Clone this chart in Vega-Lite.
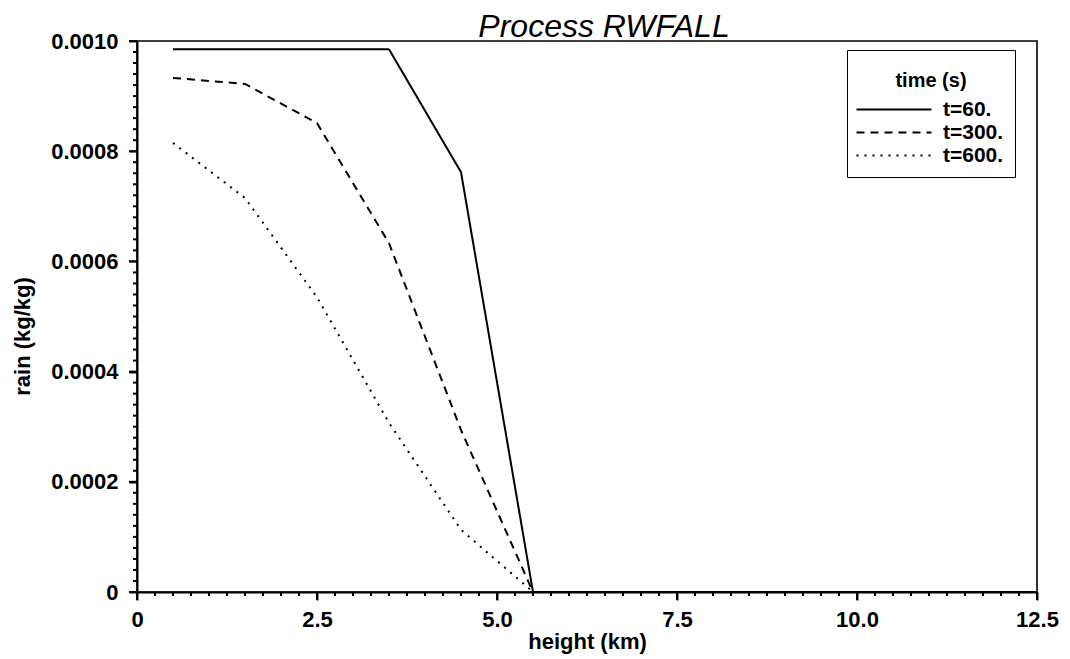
{
  "$schema": "https://vega.github.io/schema/vega-lite/v6.json",
  "autosize": {"type": "none"},
  "width": 900,
  "height": 551,
  "padding": {"left": 137, "top": 41, "right": 33, "bottom": 67},
  "background": "white",
  "title": {
    "text": "Process RWFALL",
    "font": "Liberation Sans",
    "fontSize": 32,
    "fontStyle": "italic",
    "fontWeight": "normal",
    "color": "black",
    "anchor": "middle",
    "frame": "group",
    "baseline": "alphabetic",
    "offset": 0,
    "dy": 39,
    "dx": 17
  },
  "config": {
    "view": {"stroke": "black", "strokeWidth": 1.6},
    "font": "Liberation Sans",
    "axis": {
      "domainColor": "black",
      "domainWidth": 2,
      "tickColor": "black",
      "tickWidth": 2,
      "grid": false,
      "labelFont": "Liberation Sans",
      "labelFontWeight": "bold",
      "labelFontSize": 22,
      "labelColor": "black",
      "labelOverlap": false,
      "labelFlush": false,
      "titleFont": "Liberation Sans",
      "titleFontWeight": "bold",
      "titleFontSize": 22,
      "titleColor": "black"
    }
  },
  "datasets": {
    "profiles": [
      {"height": 0.5, "rain": 0.000985, "time": "t=60."},
      {"height": 1.5, "rain": 0.000985, "time": "t=60."},
      {"height": 2.5, "rain": 0.000985, "time": "t=60."},
      {"height": 3.5, "rain": 0.000985, "time": "t=60."},
      {"height": 4.5, "rain": 0.000762, "time": "t=60."},
      {"height": 5.5, "rain": 0, "time": "t=60."},
      {"height": 6.5, "rain": 0, "time": "t=60."},
      {"height": 7.5, "rain": 0, "time": "t=60."},
      {"height": 8.5, "rain": 0, "time": "t=60."},
      {"height": 9.5, "rain": 0, "time": "t=60."},
      {"height": 10.5, "rain": 0, "time": "t=60."},
      {"height": 11.5, "rain": 0, "time": "t=60."},
      {"height": 12.5, "rain": 0, "time": "t=60."},
      {"height": 0.5, "rain": 0.000933, "time": "t=300."},
      {"height": 1.5, "rain": 0.000922, "time": "t=300."},
      {"height": 2.5, "rain": 0.000851, "time": "t=300."},
      {"height": 3.5, "rain": 0.000633, "time": "t=300."},
      {"height": 4.5, "rain": 0.000294, "time": "t=300."},
      {"height": 5.5, "rain": 0, "time": "t=300."},
      {"height": 6.5, "rain": 0, "time": "t=300."},
      {"height": 7.5, "rain": 0, "time": "t=300."},
      {"height": 8.5, "rain": 0, "time": "t=300."},
      {"height": 9.5, "rain": 0, "time": "t=300."},
      {"height": 10.5, "rain": 0, "time": "t=300."},
      {"height": 11.5, "rain": 0, "time": "t=300."},
      {"height": 12.5, "rain": 0, "time": "t=300."},
      {"height": 0.5, "rain": 0.000815, "time": "t=600."},
      {"height": 1.5, "rain": 0.000715, "time": "t=600."},
      {"height": 2.5, "rain": 0.000535, "time": "t=600."},
      {"height": 3.5, "rain": 0.000307, "time": "t=600."},
      {"height": 4.5, "rain": 0.000113, "time": "t=600."},
      {"height": 5.5, "rain": 0, "time": "t=600."},
      {"height": 6.5, "rain": 0, "time": "t=600."},
      {"height": 7.5, "rain": 0, "time": "t=600."},
      {"height": 8.5, "rain": 0, "time": "t=600."},
      {"height": 9.5, "rain": 0, "time": "t=600."},
      {"height": 10.5, "rain": 0, "time": "t=600."},
      {"height": 11.5, "rain": 0, "time": "t=600."},
      {"height": 12.5, "rain": 0, "time": "t=600."}
    ],
    "heightTicks": [
      {"v": 0}, {"v": 0.25}, {"v": 0.5}, {"v": 0.75}, {"v": 1}, {"v": 1.25}, {"v": 1.5}, {"v": 1.75}, {"v": 2}, {"v": 2.25},
      {"v": 2.5}, {"v": 2.75}, {"v": 3}, {"v": 3.25}, {"v": 3.5}, {"v": 3.75}, {"v": 4}, {"v": 4.25}, {"v": 4.5}, {"v": 4.75},
      {"v": 5}, {"v": 5.25}, {"v": 5.5}, {"v": 5.75}, {"v": 6}, {"v": 6.25}, {"v": 6.5}, {"v": 6.75}, {"v": 7}, {"v": 7.25},
      {"v": 7.5}, {"v": 7.75}, {"v": 8}, {"v": 8.25}, {"v": 8.5}, {"v": 8.75}, {"v": 9}, {"v": 9.25}, {"v": 9.5}, {"v": 9.75},
      {"v": 10}, {"v": 10.25}, {"v": 10.5}, {"v": 10.75}, {"v": 11}, {"v": 11.25}, {"v": 11.5}, {"v": 11.75}, {"v": 12}, {"v": 12.25},
      {"v": 12.5}
    ],
    "rainTicks": [
      {"v": 0}, {"v": 0.00002}, {"v": 0.00004}, {"v": 0.00006}, {"v": 0.00008}, {"v": 0.0001}, {"v": 0.00012}, {"v": 0.00014}, {"v": 0.00016}, {"v": 0.00018},
      {"v": 0.0002}, {"v": 0.00022}, {"v": 0.00024}, {"v": 0.00026}, {"v": 0.00028}, {"v": 0.0003}, {"v": 0.00032}, {"v": 0.00034}, {"v": 0.00036}, {"v": 0.00038},
      {"v": 0.0004}, {"v": 0.00042}, {"v": 0.00044}, {"v": 0.00046}, {"v": 0.00048}, {"v": 0.0005}, {"v": 0.00052}, {"v": 0.00054}, {"v": 0.00056}, {"v": 0.00058},
      {"v": 0.0006}, {"v": 0.00062}, {"v": 0.00064}, {"v": 0.00066}, {"v": 0.00068}, {"v": 0.0007}, {"v": 0.00072}, {"v": 0.00074}, {"v": 0.00076}, {"v": 0.00078},
      {"v": 0.0008}, {"v": 0.00082}, {"v": 0.00084}, {"v": 0.00086}, {"v": 0.00088}, {"v": 0.0009}, {"v": 0.00092}, {"v": 0.00094}, {"v": 0.00096}, {"v": 0.00098},
      {"v": 0.001}
    ]
  },
  "layer": [
    {
      "data": {"name": "profiles"},
      "mark": {"type": "line", "color": "black", "strokeWidth": 2, "clip": true},
      "encoding": {
        "x": {
          "field": "height",
          "type": "quantitative",
          "title": "height (km)",
          "scale": {"domain": [0, 12.5], "nice": false, "zero": false},
          "axis": {
            "orient": "bottom",
            "values": [0, 2.5, 5, 7.5, 10, 12.5],
            "labelExpr": "datum.value == 0 ? '0' : format(datum.value, '.1f')",
            "tickSize": 8,
            "labelPadding": 9,
            "titlePadding": 1
          }
        },
        "y": {
          "field": "rain",
          "type": "quantitative",
          "title": "rain (kg/kg)",
          "scale": {"domain": [0, 0.001], "nice": false},
          "axis": {
            "orient": "left",
            "values": [0, 0.0002, 0.0004, 0.0006, 0.0008, 0.001],
            "labelExpr": "datum.value == 0 ? '0' : format(datum.value, '.4f')",
            "tickSize": 8,
            "labelPadding": 11,
            "titleX": -115,
            "titleY": 295,
            "titleAngle": -90,
            "titleAlign": "center",
            "titleBaseline": "middle"
          }
        },
        "strokeDash": {
          "field": "time",
          "type": "nominal",
          "scale": {
            "domain": ["t=60.", "t=300.", "t=600."],
            "range": [[1, 0], [8, 6], [2, 6]]
          },
          "legend": {
            "title": ["", "time (s)"],
            "orient": "none",
            "legendX": 710,
            "legendY": 9,
            "direction": "vertical",
            "padding": 11,
            "strokeColor": "black",
            "fillColor": "white",
            "symbolType": "M-2.4,0H12.6",
            "symbolSize": 100,
            "symbolStrokeWidth": 2,
            "symbolStrokeColor": "black",
            "labelFont": "Liberation Sans",
            "labelFontSize": 21,
            "labelFontWeight": "bold",
            "labelColor": "black",
            "labelOffset": 64,
            "titleFont": "Liberation Sans",
            "titleFontSize": 20,
            "titleFontWeight": "bold",
            "titleColor": "black",
            "titleAnchor": "middle",
            "titleLineHeight": 10,
            "titlePadding": 8,
            "rowPadding": 1
          }
        }
      }
    },
    {
      "data": {"name": "heightTicks"},
      "transform": [{"filter": "datum.v % 2.5 != 0"}],
      "mark": {"type": "tick", "orient": "vertical", "color": "black", "opacity": 1, "size": 4, "thickness": 2, "yOffset": 2},
      "encoding": {
        "x": {"field": "v", "type": "quantitative", "axis": null},
        "y": {"datum": 0, "type": "quantitative", "axis": null}
      }
    },
    {
      "data": {"name": "heightTicks"},
      "transform": [{"filter": "datum.v % 2.5 == 0"}],
      "mark": {"type": "tick", "orient": "vertical", "color": "black", "opacity": 1, "size": 8, "thickness": 2, "yOffset": 4},
      "encoding": {
        "x": {"field": "v", "type": "quantitative", "axis": null},
        "y": {"datum": 0, "type": "quantitative", "axis": null}
      }
    },
    {
      "data": {"name": "rainTicks"},
      "transform": [{"filter": "abs(datum.v * 5000 - round(datum.v * 5000)) >= 0.001"}],
      "mark": {"type": "tick", "orient": "horizontal", "color": "black", "opacity": 1, "size": 4, "thickness": 2, "xOffset": -2},
      "encoding": {
        "y": {"field": "v", "type": "quantitative", "axis": null},
        "x": {"datum": 0, "type": "quantitative", "axis": null}
      }
    },
    {
      "data": {"name": "rainTicks"},
      "transform": [{"filter": "abs(datum.v * 5000 - round(datum.v * 5000)) < 0.001"}],
      "mark": {"type": "tick", "orient": "horizontal", "color": "black", "opacity": 1, "size": 8, "thickness": 2, "xOffset": -4},
      "encoding": {
        "y": {"field": "v", "type": "quantitative", "axis": null},
        "x": {"datum": 0, "type": "quantitative", "axis": null}
      }
    }
  ],
  "resolve": {"axis": {"x": "independent", "y": "independent"}}
}
